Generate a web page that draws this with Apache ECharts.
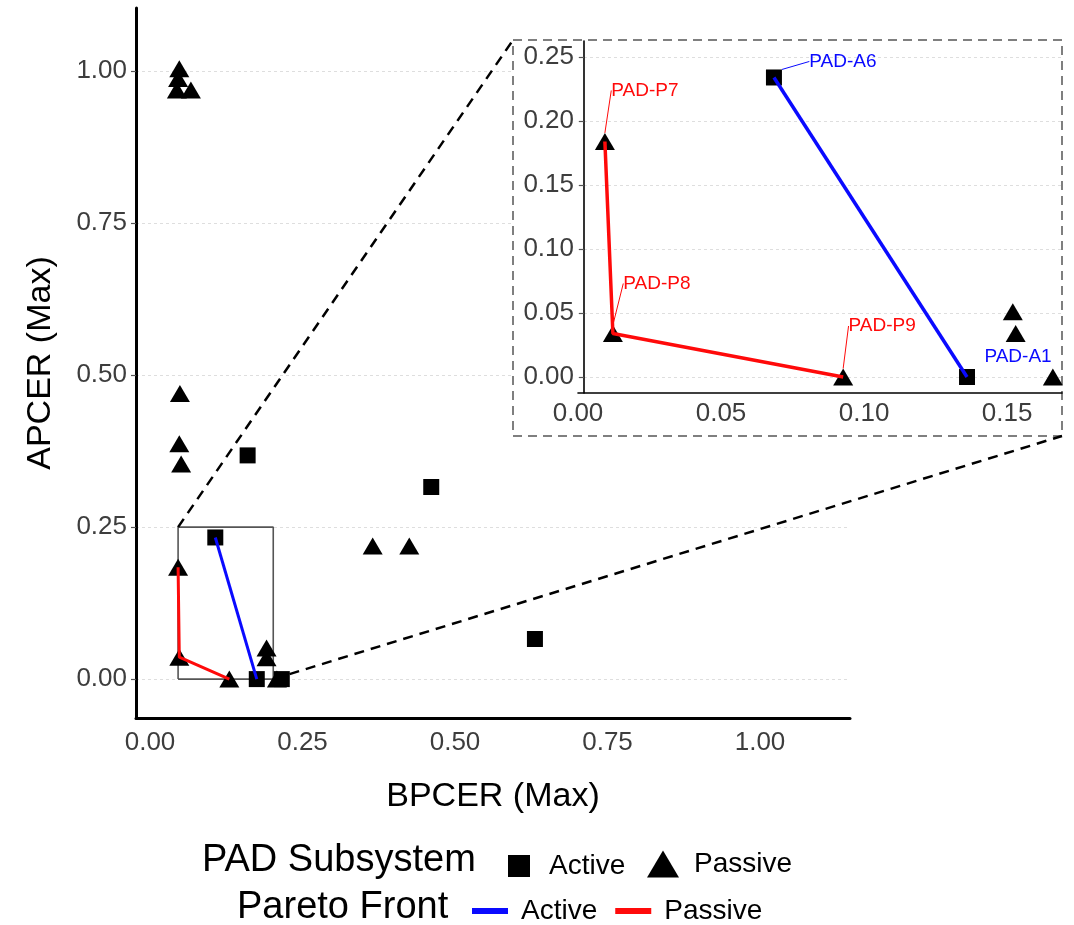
<!DOCTYPE html>
<html>
<head>
<meta charset="utf-8">
<script src="https://cdn.jsdelivr.net/npm/echarts@6/dist/echarts.min.js"></script>
<style>
  html, body { margin: 0; padding: 0; background: #ffffff; }
  #chart { width: 1074px; height: 925px; }
</style>
</head>
<body>
<div id="chart"></div>
<script>
// ---- Overview panel: every PAD subsystem as (BPCER max, APCER max) ----
const activeBPCER  = [0.107, 0.175, 0.216, 0.160, 0.461, 0.631];
const activeAPCER  = [0.233, 0.000, 0.000, 0.368, 0.316, 0.066];
const passiveBPCER = [0.048, 0.046, 0.044, 0.067, 0.049, 0.048, 0.051, 0.365, 0.425, 0.046, 0.048, 0.130, 0.191, 0.191, 0.208];
const passiveAPCER = [1.004, 0.988, 0.969, 0.969, 0.470, 0.387, 0.354, 0.219, 0.219, 0.184, 0.036, 0.000, 0.051, 0.035, 0.000];
// points that form each Pareto front (indices into the arrays above)
const activeFrontIdx  = [0, 1];
const passiveFrontIdx = [9, 10, 11];
// region that is enlarged in the detail panel
const zoomBPCER = [0.046, 0.202];
const zoomAPCER = [0.000, 0.250];
const overviewTicks = [0, 0.25, 0.5, 0.75, 1];

// ---- Detail panel ----
const detailActiveBPCER  = [0.0685, 0.136];
const detailActiveAPCER  = [0.234, 0.000];
const detailActiveNames  = ['PAD-A6', 'PAD-A1'];
const detailPassiveBPCER = [0.0094, 0.0122, 0.0927, 0.152, 0.153, 0.166];
const detailPassiveAPCER = [0.184, 0.034, 0.000, 0.051, 0.034, 0.000];
const detailPassiveNames = ['PAD-P7', 'PAD-P8', 'PAD-P9', '', '', ''];
const detailActiveFrontIdx  = [0, 1];
const detailPassiveFrontIdx = [0, 1, 2];
const detailTicksX = [0, 0.05, 0.1, 0.15];
const detailTicksY = [0, 0.05, 0.1, 0.15, 0.2, 0.25];

// label placement (pixel shift from the point) for the named subsystems
const labelShift = {
  'PAD-A6': [69, -16], 'PAD-A1': [51, -20],
  'PAD-P7': [40, -51], 'PAD-P8': [44, -50], 'PAD-P9': [39, -51]
};
// labels that sit next to their point without a leader line
const noLeader = ['PAD-A1'];

const FONT = '"Liberation Sans", Arial, Helvetica, sans-serif';
const BLUE = '#0a0aff';
const RED = '#ff0a0a';
const INK = '#000000';

const pairs = (xs, ys) => xs.map((x, i) => [x, ys[i]]);
const pick = (xs, ys, idx) => idx.map(i => [xs[i], ys[i]]);
const fmt2 = v => v.toFixed(2);

function labelled(xs, ys, names, color) {
  return xs.map((x, i) => {
    const item = { value: [x, ys[i]] };
    if (names[i]) {
      item.label = { show: true, formatter: names[i] };
      item.labelLine = { show: noLeader.indexOf(names[i]) < 0, lineStyle: { color: color, width: 1 } };
    }
    return item;
  });
}

const chart = echarts.init(document.getElementById('chart'), null, { renderer: 'canvas' });

const gridLine = { show: true, lineStyle: { color: '#dedede', width: 1, type: [3, 3] } };
const pointStyle = { color: INK, opacity: 1 };

const option = {
  animation: false,
  backgroundColor: '#ffffff',
  textStyle: { fontFamily: FONT },
  title: [
    { text: 'PAD Subsystem', left: 202, top: 842, padding: 0,
      textStyle: { fontSize: 38, fontWeight: 'normal', color: '#000', fontFamily: FONT } },
    { text: 'Pareto Front', left: 237, top: 889, padding: 0,
      textStyle: { fontSize: 38, fontWeight: 'normal', color: '#000', fontFamily: FONT } }
  ],
  legend: [
    { data: [{ name: 'Active', icon: 'rect' }], left: 508, top: 852, padding: 0,
      itemWidth: 22, itemHeight: 22, selectedMode: false,
      itemStyle: { opacity: 1 },
      textStyle: { fontSize: 28, color: '#000', fontFamily: FONT, padding: [0, 0, 0, 14] } },
    { data: [{ name: 'Passive', icon: 'triangle' }], left: 647, top: 850, padding: 0,
      itemWidth: 32, itemHeight: 27, selectedMode: false,
      itemStyle: { opacity: 1 },
      textStyle: { fontSize: 28, color: '#000', fontFamily: FONT, padding: [0, 0, 0, 10] } },
    { data: [{ name: 'Active front', icon: 'rect' }, { name: 'Passive front', icon: 'rect' }],
      left: 472, top: 897, padding: 0, itemWidth: 36, itemHeight: 6, itemGap: 18,
      selectedMode: false, formatter: n => n.split(' ')[0],
      textStyle: { fontSize: 28, color: '#000', fontFamily: FONT, padding: [0, 0, 0, 8] } }
  ],
  grid: [
    { left: 136, top: 8, width: 714, height: 710 },
    { left: 578, top: 41, width: 484, height: 352 }
  ],
  xAxis: [
    { type: 'value', gridIndex: 0, min: -0.023, max: 1.1475,
      name: 'BPCER (Max)', nameLocation: 'middle', nameGap: 62,
      nameTextStyle: { fontSize: 34, color: '#000', fontFamily: FONT },
      axisLine: { onZero: false, lineStyle: { color: '#000', width: 3 } },
      axisTick: { show: false, customValues: overviewTicks },
      axisLabel: { customValues: overviewTicks, formatter: fmt2, fontSize: 26, color: '#3d3d3d', margin: 12 },
      splitLine: { show: false } },
    { type: 'value', gridIndex: 1, min: 0, max: 0.1692, z: 5,
      axisLine: { onZero: false, lineStyle: { color: '#000', width: 1.6 } },
      axisTick: { show: false, customValues: detailTicksX },
      axisLabel: { customValues: detailTicksX, formatter: fmt2, fontSize: 26, color: '#3d3d3d', margin: 8 },
      splitLine: { show: false } }
  ],
  yAxis: [
    { type: 'value', gridIndex: 0, min: -0.064, max: 1.104,
      name: 'APCER (Max)', nameLocation: 'middle', nameGap: 78,
      nameTextStyle: { fontSize: 34, color: '#000', fontFamily: FONT },
      axisLine: { onZero: false, lineStyle: { color: '#000', width: 3 } },
      axisTick: { show: true, length: 5, customValues: overviewTicks, lineStyle: { color: '#555', width: 1.2 } },
      axisLabel: { customValues: overviewTicks, formatter: fmt2, fontSize: 26, color: '#3d3d3d', margin: 9 },
      splitLine: gridLine },
    { type: 'value', gridIndex: 1, min: -0.0125, max: 0.2625, z: 5, offset: -6,
      axisLine: { onZero: false, lineStyle: { color: '#000', width: 1.6 } },
      axisTick: { show: true, length: 5, customValues: detailTicksY, lineStyle: { color: '#555', width: 1.2 } },
      axisLabel: { customValues: detailTicksY, formatter: fmt2, fontSize: 26, color: '#3d3d3d', margin: 10 },
      splitLine: gridLine }
  ],
  series: [
    // overview panel
    { name: 'zoom region', type: 'line', xAxisIndex: 0, yAxisIndex: 0, silent: true, z: 1,
      symbol: 'none', lineStyle: { color: '#555', width: 1.6 },
      data: [[zoomBPCER[0], zoomAPCER[0]], [zoomBPCER[1], zoomAPCER[0]], [zoomBPCER[1], zoomAPCER[1]],
             [zoomBPCER[0], zoomAPCER[1]], [zoomBPCER[0], zoomAPCER[0]]] },
    { name: 'Active', type: 'scatter', xAxisIndex: 0, yAxisIndex: 0, z: 3, clip: false,
      symbol: 'rect', symbolSize: 16, itemStyle: pointStyle,
      data: pairs(activeBPCER, activeAPCER) },
    { name: 'Passive', type: 'scatter', xAxisIndex: 0, yAxisIndex: 0, z: 3, clip: false,
      symbol: 'triangle', symbolSize: [20, 17], itemStyle: pointStyle,
      data: pairs(passiveBPCER, passiveAPCER) },
    { name: 'Active front', type: 'line', xAxisIndex: 0, yAxisIndex: 0, z: 4,
      symbol: 'none', itemStyle: { color: BLUE }, lineStyle: { color: BLUE, width: 3 },
      data: pick(activeBPCER, activeAPCER, activeFrontIdx) },
    { name: 'Passive front', type: 'line', xAxisIndex: 0, yAxisIndex: 0, z: 4,
      symbol: 'none', itemStyle: { color: RED }, lineStyle: { color: RED, width: 3 },
      data: pick(passiveBPCER, passiveAPCER, passiveFrontIdx) },

    // detail panel
    { name: 'Active', type: 'scatter', xAxisIndex: 1, yAxisIndex: 1, z: 6, clip: true,
      symbol: 'rect', symbolSize: 16, itemStyle: pointStyle,
      label: { show: false, position: 'inside', color: BLUE, fontSize: 19, fontFamily: FONT },
      labelLine: { show: false, lineStyle: { color: BLUE, width: 1 } },
      labelLayout: p => { const s = labelShift[p.text]; return s ? { dx: s[0], dy: s[1] } : {}; },
      data: labelled(detailActiveBPCER, detailActiveAPCER, detailActiveNames, BLUE) },
    { name: 'Passive', type: 'scatter', xAxisIndex: 1, yAxisIndex: 1, z: 6, clip: true,
      symbol: 'triangle', symbolSize: [20, 17], itemStyle: pointStyle,
      label: { show: false, position: 'inside', color: RED, fontSize: 19, fontFamily: FONT },
      labelLine: { show: false, lineStyle: { color: RED, width: 1 } },
      labelLayout: p => { const s = labelShift[p.text]; return s ? { dx: s[0], dy: s[1] } : {}; },
      data: labelled(detailPassiveBPCER, detailPassiveAPCER, detailPassiveNames, RED) },
    { name: 'Active front', type: 'line', xAxisIndex: 1, yAxisIndex: 1, z: 7,
      symbol: 'none', itemStyle: { color: BLUE }, lineStyle: { color: BLUE, width: 3.5 },
      data: pick(detailActiveBPCER, detailActiveAPCER, detailActiveFrontIdx) },
    { name: 'Passive front', type: 'line', xAxisIndex: 1, yAxisIndex: 1, z: 7,
      symbol: 'none', itemStyle: { color: RED }, lineStyle: { color: RED, width: 3.5 },
      data: pick(detailPassiveBPCER, detailPassiveAPCER, detailPassiveFrontIdx) }
  ]
};

chart.setOption(option);

// Detail panel frame and the dashed guides joining it to the zoom region
const panel = { x: 513, y: 40, w: 549, h: 396 };
const zTopLeft = chart.convertToPixel({ gridIndex: 0 }, [zoomBPCER[0], zoomAPCER[1]]);
const zBottomRight = chart.convertToPixel({ gridIndex: 0 }, [zoomBPCER[1], zoomAPCER[0]]);
chart.setOption({
  graphic: [
    { type: 'rect', id: 'panel', z: 1, silent: true,
      shape: { x: panel.x, y: panel.y, width: panel.w, height: panel.h },
      style: { fill: '#ffffff', stroke: '#555', lineWidth: 1.5, lineDash: [9, 6] } },
    { type: 'line', id: 'guideTop', z: 10, silent: true,
      shape: { x1: zTopLeft[0], y1: zTopLeft[1], x2: panel.x, y2: panel.y },
      style: { stroke: '#000', lineWidth: 2.5, lineDash: [10, 7] } },
    { type: 'line', id: 'guideBottom', z: 10, silent: true,
      shape: { x1: zBottomRight[0], y1: zBottomRight[1], x2: panel.x + panel.w, y2: panel.y + panel.h },
      style: { stroke: '#000', lineWidth: 2.5, lineDash: [10, 7] } }
  ]
});
</script>
</body>
</html>
